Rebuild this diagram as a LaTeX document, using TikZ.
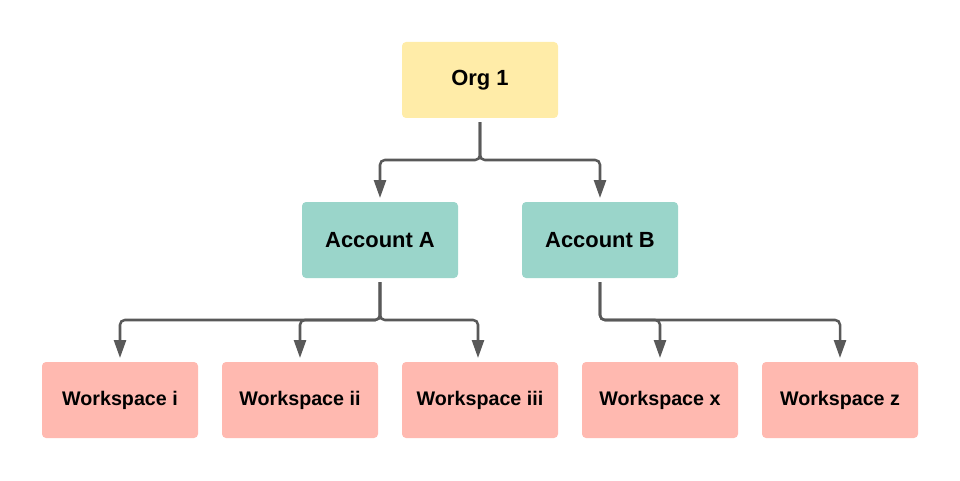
\documentclass[tikz,border=0pt]{standalone}
\usepackage{fontspec}
\setmainfont{Liberation Sans}
\usepackage{tikz}
\usetikzlibrary{arrows.meta,positioning,calc}
\definecolor{orgyellow}{RGB}{255,236,168}
\definecolor{accteal}{RGB}{154,213,202}
\definecolor{wspink}{RGB}{255,185,176}
\definecolor{conngray}{RGB}{89,89,89}
\tikzstyle{conn} = [line width=1.8pt,color=conngray,rounded corners=0.12cm,shorten <=0.1cm,shorten >=0.1cm,-{Triangle[length=0.45cm,width=0.3cm]}]
\tikzstyle{orgbox} = [rectangle, rounded corners=0.1cm, minimum width=3.9cm, minimum height=1.9cm, outer sep=0pt, text centered, fill=orgyellow, font=\fontsize{15.6}{18}\selectfont\bfseries]
\tikzstyle{accbox} = [orgbox, fill=accteal]
\tikzstyle{wsbox} = [orgbox, fill=wspink, font=\fontsize{14}{17}\selectfont\bfseries]
\begin{document}
\begin{tikzpicture}
\useasboundingbox (0,0) rectangle (24,12);
% Top level
\node[orgbox] (org) at (12,10) {Org 1};

% Accounts
\node[accbox, below=2.1cm of org, xshift=-2.5cm] (accA) {Account A};
\node[accbox, below=2.1cm of org, xshift=3cm] (accB) {Account B};

% Workspaces
\node[wsbox, below=2.1cm of accA, xshift=-6.5cm] (wsi) {Workspace i};
\node[wsbox, right=0.6cm of wsi] (wsii) {Workspace ii};
\node[wsbox, right=0.6cm of wsii] (wsiii) {Workspace iii};
\node[wsbox, right=0.6cm of wsiii] (wsx) {Workspace x};
\node[wsbox, right=0.6cm of wsx] (wsz) {Workspace z};

% Junctions
\coordinate (orgmid) at ($(org.south)!0.5!(org.south |- accA.north)$);
\coordinate (accAmid) at ($(accA.south)!0.5!(accA.south |- wsi.north)$);
\coordinate (accBmid) at ($(accB.south)!0.5!(accB.south |- wsx.north)$);

% Arrows
\draw[conn] (org.south) -- (orgmid) -| (accA.north);
\draw[conn] (org.south) -- (orgmid) -| (accB.north);
\draw[conn] (accA.south) -- (accAmid) -| (wsi.north);
\draw[conn] (accA.south) -- (accAmid) -| (wsii.north);
\draw[conn] (accA.south) -- (accAmid) -| ([xshift=-0.05cm]wsiii.north);
\draw[conn] (accB.south) -- (accBmid) -| (wsx.north);
\draw[conn] (accB.south) -- (accBmid) -| (wsz.north);
\end{tikzpicture}
\end{document}
